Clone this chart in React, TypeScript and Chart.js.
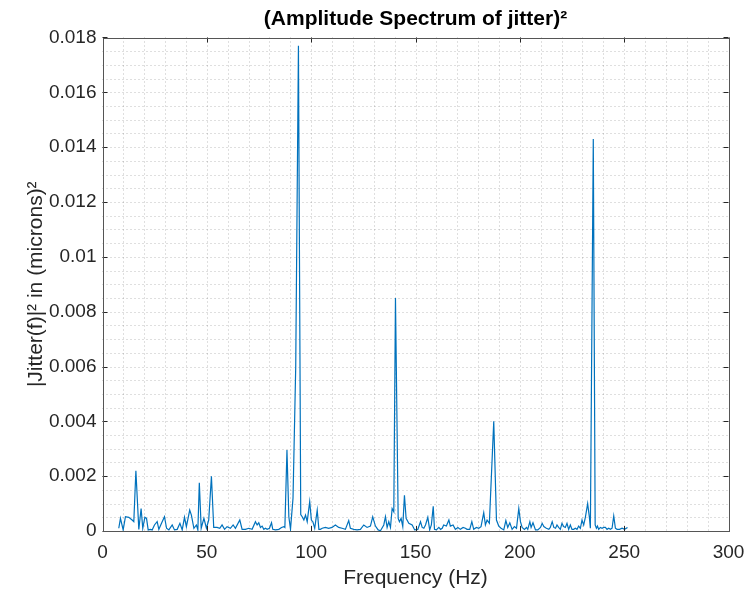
import React, { useEffect, useRef } from "react";
import { Chart, registerables } from "chart.js";

Chart.register(...registerables);

const FONT = "'Liberation Sans', Arial, Helvetica, sans-serif";

const titleText = "(Amplitude Spectrum of jitter)\u00B2";
const xAxisTitle = "Frequency (Hz)";
const yAxisTitle = "|Jitter(f)|\u00B2 in (microns)\u00B2";

const xMin = 0;
const xMax = 300;
const xMajorStep = 50;
const xMinorStep = 10;
const yMin = 0;
const yMax = 0.018;
const yMajorStep = 0.002;
const yMinorStep = 0.0005;

const freqHz = [
  7.8, 8.6, 9.9, 11.0, 12.6, 14.2, 15.0, 16.0, 17.4, 18.5, 19.3, 20.3, 21.1, 21.9, 23.0, 23.8,
  24.9, 26.2, 27.0, 28.6, 29.7, 30.7, 31.8, 33.4, 34.5, 35.8, 37.1, 38.2, 39.3, 40.2, 41.8, 42.6,
  43.8, 45.0, 45.7, 46.4, 47.3, 48.6, 49.8, 50.9, 52.2, 53.3, 54.9, 56.2, 57.3, 58.5, 59.7, 61.3,
  62.6, 63.7, 65.8, 66.9, 68.5, 70.1, 71.7, 73.3, 74.1, 74.9, 75.7, 76.5, 77.3, 78.1, 78.9, 80.0,
  81.0, 81.6, 82.9, 84.5, 85.8, 86.9, 87.4, 88.4, 89.3, 90.1, 91.3, 92.6, 93.9, 95.0, 95.7, 96.5,
  97.3, 98.1, 99.3, 100.1, 100.8, 101.7, 102.9, 103.7, 104.4, 105.3, 106.8, 108.4, 110.0, 111.6,
  113.2, 114.8, 116.4, 118.0, 118.8, 120.4, 122.0, 123.6, 125.2, 126.8, 128.4, 129.5, 130.8,
  132.1, 133.2, 134.8, 135.6, 136.4, 137.2, 138.0, 138.8, 139.6, 140.4, 141.7, 142.3, 143.1,
  143.9, 144.7, 145.5, 146.8, 148.4, 149.6, 151.1, 152.4, 153.2, 154.0, 154.8, 155.9, 156.8,
  157.6, 158.5, 159.1, 160.0, 161.2, 162.0, 162.8, 163.5, 164.8, 166.0, 166.7, 168.0, 169.1,
  170.3, 171.5, 172.8, 173.9, 174.7, 176.0, 177.0, 177.9, 179.2, 180.3, 181.4, 182.7, 183.5,
  184.3, 185.4, 187.5, 188.8, 189.9, 191.0, 192.3, 193.3, 194.2, 195.2, 196.3, 197.4, 198.4,
  199.5, 200.3, 201.1, 202.2, 203.2, 203.8, 204.8, 205.4, 206.3, 207.5, 208.6, 209.9, 210.7,
  211.5, 212.7, 213.9, 214.6, 215.5, 216.3, 217.1, 217.8, 218.6, 219.4, 220.2, 221.0, 221.8,
  222.6, 223.4, 224.2, 225.0, 225.8, 226.6, 227.4, 228.2, 229.0, 229.8, 230.6, 231.4, 232.5,
  233.3, 233.8, 235.2, 236.1, 236.7, 237.2, 237.8, 238.6, 239.4, 240.2, 241.0, 241.8, 242.6,
  243.4, 244.2, 245.0, 245.8, 246.6, 247.8, 249.0, 250.2, 251.6,
];

const jitterPower = [
  0.0001, 0.00046, 0.00004, 0.00052, 0.0005, 0.0004, 0.00034, 0.0022, 0.00006, 0.00082, 0.0001,
  0.0005, 0.00046, 0.00004, 0.00006, 0.00004, 0.00022, 0.00034, 0.00006, 0.00034, 0.00052,
  0.0001, 0.00004, 0.00022, 0.00004, 0.00006, 0.00028, 0.00004, 0.0005, 0.00016, 0.00076,
  0.00058, 0.0001, 0.00022, 0.00004, 0.00176, 0.0001, 0.00046, 0.0001, 0.0004, 0.002, 0.00013,
  0.00013, 0.0001, 0.00022, 0.00006, 0.00016, 0.0001, 0.00022, 0.0001, 0.0004, 0.00006,
  0.00006, 0.0001, 0.00006, 0.00034, 0.00022, 0.0003, 0.00013, 0.00018, 0.00006, 0.0001,
  0.00006, 0.0001, 0.0003, 0.00006, 0.00004, 0.00006, 0.00013, 0.00016, 0.00013, 0.00295,
  0.00052, 0.00006, 0.0012, 0.006, 0.0177, 0.0006, 0.00052, 0.0004, 0.00058, 0.00034, 0.00107,
  0.0004, 0.00034, 0.0001, 0.00076, 0.00006, 0.00006, 0.0001, 0.00013, 0.0001, 0.00013,
  0.00022, 0.00013, 0.0001, 0.00006, 0.00038, 0.0001, 0.00006, 0.00004, 0.00006, 0.00022,
  0.00013, 0.00018, 0.00052, 0.00018, 0.00004, 0.00001, 0.00022, 0.00052, 0.00013, 0.00034,
  0.00013, 0.00082, 0.0007, 0.0085, 0.00046, 0.00034, 0.00046, 0.00016, 0.0013, 0.00046,
  0.00028, 0.00022, 0.00004, 0.00006, 0.00034, 0.00013, 0.0001, 0.00022, 0.0005, 0.00004,
  0.00022, 0.0009, 0.00006, 0.00004, 0.00013, 0.00006, 0.0001, 0.00022, 0.00018, 0.0004,
  0.00018, 0.00022, 0.00006, 0.00013, 0.00006, 0.00013, 0.0001, 0.00006, 0.00006, 0.00034,
  0.00006, 0.00013, 0.0001, 0.00016, 0.00067, 0.00022, 0.0004, 0.00028, 0.004, 0.0004,
  0.00018, 0.0001, 0.00004, 0.00038, 0.00013, 0.0003, 0.00006, 0.00016, 0.0001, 0.00082,
  0.00034, 0.00013, 0.00006, 0.00013, 0.00006, 0.00034, 0.00013, 0.0003, 0.00004, 0.00004,
  0.00013, 0.00028, 0.00016, 0.0001, 0.00006, 0.00013, 0.00034, 0.00013, 0.0001, 0.00022,
  0.00013, 0.00006, 0.00028, 0.00016, 0.00013, 0.00028, 0.00006, 0.00022, 0.00006, 0.00006,
  0.0001, 0.00006, 0.00018, 0.0001, 0.0004, 0.00022, 0.0005, 0.001, 0.00052, 0.0001, 0.0143,
  0.00022, 0.0001, 0.00018, 0.00006, 0.00013, 0.0001, 0.00013, 0.00013, 0.00006, 0.0001,
  0.00006, 0.0001, 0.00055, 0.0001, 0.00006, 0.00006, 0.0001, 0.00006, 0.00013,
];

const matlabAxes = {
  id: "matlabAxes",
  beforeDatasetsDraw(chart: any) {
    const { ctx, chartArea: a, scales } = chart;
    const x = scales.x;
    const y = scales.y;
    ctx.save();
    ctx.strokeStyle = "rgba(60,60,60,0.32)";
    ctx.lineWidth = 1;
    ctx.setLineDash([1, 3]);
    for (let v = xMin + xMinorStep; v < xMax - 1e-9; v += xMinorStep) {
      const px = Math.round(x.getPixelForValue(v)) + 0.5;
      ctx.beginPath();
      ctx.moveTo(px, a.top);
      ctx.lineTo(px, a.bottom);
      ctx.stroke();
    }
    const nY = Math.round((yMax - yMin) / yMinorStep);
    for (let k = 1; k < nY; k++) {
      const py = Math.round(y.getPixelForValue(yMin + k * yMinorStep)) + 0.5;
      ctx.beginPath();
      ctx.moveTo(a.left, py);
      ctx.lineTo(a.right, py);
      ctx.stroke();
    }
    ctx.restore();
  },
  afterDatasetsDraw(chart: any) {
    const { ctx, chartArea: a, scales } = chart;
    const x = scales.x;
    const y = scales.y;
    ctx.save();
    ctx.strokeStyle = "#262626";
    ctx.lineWidth = 1;
    ctx.setLineDash([]);
    const tl = 5;
    for (let v = xMin; v <= xMax + 1e-9; v += xMajorStep) {
      const px = Math.round(x.getPixelForValue(v)) + 0.5;
      ctx.beginPath();
      ctx.moveTo(px, a.bottom);
      ctx.lineTo(px, a.bottom - tl);
      ctx.moveTo(px, a.top);
      ctx.lineTo(px, a.top + tl);
      ctx.stroke();
    }
    const nY = Math.round((yMax - yMin) / yMajorStep);
    for (let k = 0; k <= nY; k++) {
      const py = Math.round(y.getPixelForValue(yMin + k * yMajorStep)) + 0.5;
      ctx.beginPath();
      ctx.moveTo(a.left, py);
      ctx.lineTo(a.left + tl, py);
      ctx.moveTo(a.right, py);
      ctx.lineTo(a.right - tl, py);
      ctx.stroke();
    }
    ctx.strokeStyle = "#555555";
    ctx.strokeRect(
      Math.round(a.left) + 0.5,
      Math.round(a.top) + 0.5,
      Math.round(a.right) - Math.round(a.left),
      Math.round(a.bottom) - Math.round(a.top)
    );
    ctx.restore();
  },
};

export default function App() {
  const canvasRef = useRef<HTMLCanvasElement | null>(null);

  useEffect(() => {
    const canvas = canvasRef.current;
    if (!canvas) return;
    const data = freqHz.map((f, i) => ({ x: f, y: jitterPower[i] }));
    const chart = new Chart(canvas, {
      type: "line",
      data: {
        datasets: [
          {
            data,
            borderColor: "#0072BD",
            borderWidth: 1.2,
            pointRadius: 0,
            tension: 0,
            fill: false,
          },
        ],
      },
      options: {
        animation: false,
        responsive: false,
        events: [],
        layout: { padding: { left: 0, right: 18.5, top: 0, bottom: 0 } },
        plugins: {
          legend: { display: false },
          tooltip: { enabled: false },
          title: {
            display: true,
            text: titleText,
            fullSize: false,
            color: "#000000",
            font: { family: FONT, size: 21, weight: "bold" },
            padding: { top: 7, bottom: 5.3 },
          },
        },
        scales: {
          x: {
            type: "linear",
            min: xMin,
            max: xMax,
            afterFit: (s: any) => {
              s.height = 64;
              s.paddingLeft = 0;
              s.paddingRight = 0;
            },
            ticks: {
              stepSize: xMajorStep,
              color: "#262626",
              font: { family: FONT, size: 19 },
              padding: 10,
              maxRotation: 0,
            },
            grid: { display: false, drawTicks: false },
            border: { display: false },
            title: {
              display: true,
              text: xAxisTitle,
              color: "#262626",
              font: { family: FONT, size: 21 },
              padding: { top: 0, bottom: 4 },
            },
          },
          y: {
            type: "linear",
            min: yMin,
            max: yMax,
            afterFit: (s: any) => {
              s.width = 102.5;
              s.paddingTop = 0;
              s.paddingBottom = 0;
            },
            ticks: {
              stepSize: yMajorStep,
              color: "#262626",
              font: { family: FONT, size: 19 },
              padding: 6,
              callback: (v: any) => String(Number(Number(v).toFixed(3))),
            },
            grid: { display: false, drawTicks: false },
            border: { display: false },
            title: {
              display: true,
              text: yAxisTitle,
              color: "#262626",
              font: { family: FONT, size: 21 },
              padding: { top: 24, bottom: 0 },
            },
          },
        },
      },
      plugins: [matlabAxes],
    });
    return () => chart.destroy();
  }, []);

  return (
    <div style={{ position: "absolute", left: 0, top: 0, width: 747, height: 595, background: "#ffffff" }}>
      <canvas ref={canvasRef} width={747} height={595} style={{ display: "block" }} />
    </div>
  );
}
